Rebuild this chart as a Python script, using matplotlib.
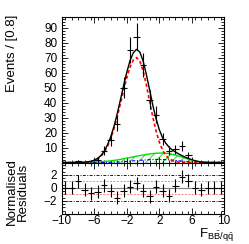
import numpy as np
import matplotlib
matplotlib.use("Agg")
import matplotlib.pyplot as plt
from matplotlib.ticker import MultipleLocator, FixedLocator

plt.rcParams['font.family'] = ['Liberation Sans', 'DejaVu Sans']
plt.rcParams['mathtext.fontset'] = 'custom'
plt.rcParams['mathtext.rm'] = 'Liberation Sans'
plt.rcParams['mathtext.it'] = 'Liberation Sans'
plt.rcParams['hatch.linewidth'] = 0.6

# data histogram (bin width 0.8)
bin_x = [-9.6, -8.8, -8.0, -7.2, -6.4, -5.6, -4.8, -4.0, -3.2, -2.4, -1.6, -0.8, 0.0,
         0.8, 1.6, 2.4, 3.2, 4.0, 4.8, 5.6, 6.4, 7.2, 8.0, 8.8, 9.6]
counts = [0, 0, 1, 0, 0, 2, 8, 15, 26, 50, 75, 84, 65,
          42, 32, 16, 8, 9, 11, 5, 0, 0, 0, 0, 0]
pulls = [0.0, 0.0, 1.0, -0.3, -0.8, -0.6, 0.4, -0.4, -1.5, -0.4, 0.2, 0.7, -0.4,
         -1.3, 0.2, -0.4, -1.2, 0.3, 1.7, 1.1, 0.0, -0.3, 0.0, 0.0, 0.0]
xticks = [-10, -6, -2, 2, 6, 10]

# fit curves
curve_x = [-10.0, -9.6, -9.2, -8.8, -8.4, -8.0, -7.6, -7.2, -6.8, -6.4, -6.0, -5.6, -5.2,
           -4.8, -4.4, -4.0, -3.6, -3.2, -2.8, -2.4, -2.0, -1.6, -1.2, -0.8, -0.4, 0.0,
           0.4, 0.8, 1.2, 1.6, 2.0, 2.4, 2.8, 3.2, 3.6, 4.0, 4.4, 4.8, 5.2, 5.6, 6.0,
           6.4, 6.8, 7.2, 7.6, 8.0, 8.4, 8.8, 9.2, 9.6, 10.0]
total = [0, 0, 0, 0, 0.05, 0.1, 0.15, 0.25, 0.45, 0.85, 1.6, 2.75, 4.6,
         7.5, 11.6, 16.9, 23.9, 32.2, 41.6, 51.3, 60.4, 68.0, 73.2, 75.5, 73.7, 67.9,
         58.9, 48.7, 38.3, 29.3, 22.0, 16.6, 12.9, 10.3, 8.3, 7.0, 5.7, 4.6, 3.6, 2.7, 1.95,
         1.2, 0.7, 0.35, 0.15, 0.05, 0, 0, 0, 0, 0]
signal = [0, 0, 0, 0, 0, 0, 0, 0.05, 0.36, 0.7, 1.35, 2.4, 4.1,
          6.8, 10.6, 15.7, 22.3, 30.2, 39.0, 48.2, 56.7, 63.8, 68.4, 70.0, 67.7, 61.3,
          51.9, 41.1, 30.4, 21.1, 13.7, 8.3, 4.7, 2.5, 1.24, 0.57, 0.25, 0.1, 0, 0, 0,
          0, 0, 0, 0, 0, 0, 0, 0, 0, 0]

bkg_x = [-10.0, -7.2, -6.4, -5.6, -4.8, -4.0, -3.2, -2.4, -1.6, -0.8, 0.0, 0.8, 1.6,
         2.4, 3.2, 4.0, 4.8, 5.6, 6.4, 7.2, 8.0, 8.8, 10.0]
continuum = [0, 0, 0.15, 0.35, 0.7, 1.1, 1.7, 2.5, 3.3, 4.2, 5.0, 5.7, 6.2,
             6.3, 6.0, 5.0, 3.6, 2.2, 1.0, 0.3, 0.05, 0, 0]
bbbar = [0, 0, 0, 0, 0, 0.1, 0.3, 0.6, 0.9, 1.3, 1.6, 1.9, 2.0,
         2.0, 1.8, 1.4, 0.9, 0.5, 0.2, 0.05, 0, 0, 0]

fig = plt.figure(figsize=(2.49, 2.44), dpi=100)
ax = fig.add_axes([0.249, 0.334, 0.651, 0.596])
axr = fig.add_axes([0.249, 0.123, 0.651, 0.211])

green = '#00e000'
ax.fill_between(bkg_x, continuum, 0, facecolor='none', edgecolor=green,
                hatch='////', linewidth=0)
ax.plot(bkg_x, continuum, color=green, lw=1.0)
ax.plot(bkg_x, bbbar, color='blue', lw=0.8, ls=(0, (3, 1.5, 1, 1.5)))
ax.plot(curve_x, signal, color='red', lw=1.2, ls=(0, (2, 1.5)))
ax.plot(curve_x, total, color='black', lw=1.0)

bx = np.array(bin_x)
cn = np.array(counts, dtype=float)
m = cn > 0
ax.errorbar(bx[m], cn[m], yerr=np.sqrt(cn[m]), xerr=0.4, fmt='none',
            ecolor='black', elinewidth=0.8, capsize=0)

ax.set_xlim(-10, 10)
ax.set_ylim(0, 97)
ax.yaxis.set_major_locator(FixedLocator(range(10, 100, 10)))
ax.yaxis.set_minor_locator(MultipleLocator(2))
ax.xaxis.set_major_locator(FixedLocator(xticks))
ax.xaxis.set_minor_locator(MultipleLocator(0.8))
ax.tick_params(which='both', direction='in', top=True, right=True, labelsize=8.5,
               labelbottom=False, width=0.6)
ax.tick_params(which='major', length=4)
ax.tick_params(which='minor', length=2)
fig.text(0.05, 0.94, 'Events / [0.8]', fontsize=9.5, rotation=90, ha='center', va='top')

# residuals
axr.axhline(2, color='blue', lw=0.7, ls=(0, (3, 1.5, 1, 1.5)))
axr.axhline(-2, color='blue', lw=0.7, ls=(0, (3, 1.5, 1, 1.5)))
axr.axhline(1, color='#ff8080', lw=0.7, ls=(0, (2, 1.5)))
axr.axhline(-1, color='#ff8080', lw=0.7, ls=(0, (2, 1.5)))
axr.axhline(0, color='#808080', lw=0.8)
axr.errorbar(bin_x, pulls, yerr=1.0, xerr=0.4, fmt='none',
             ecolor='black', elinewidth=0.8, capsize=0)
axr.set_xlim(-10, 10)
axr.set_ylim(-4, 3.9)
axr.yaxis.set_major_locator(FixedLocator([-2, 0, 2]))
axr.yaxis.set_minor_locator(MultipleLocator(0.5))
axr.xaxis.set_major_locator(FixedLocator(xticks))
axr.xaxis.set_minor_locator(MultipleLocator(0.8))
axr.tick_params(which='both', direction='in', top=True, right=True, labelsize=8.5, width=0.6)
axr.tick_params(axis='x', pad=1)
axr.tick_params(which='major', length=4)
axr.tick_params(which='minor', length=2)
fig.text(0.07, 0.213, 'Normalised\nResiduals', fontsize=9.5, rotation=90,
         ha='center', va='center', linespacing=0.9)
fig.text(0.80, 0.024, r'$\mathrm{F}_{\mathrm{B\bar{B}/q\bar{q}}}$', fontsize=9.5,
         ha='left', va='baseline')

for a in (ax, axr):
    for s in a.spines.values():
        s.set_linewidth(0.8)

fig.savefig('out.png', dpi=100)
